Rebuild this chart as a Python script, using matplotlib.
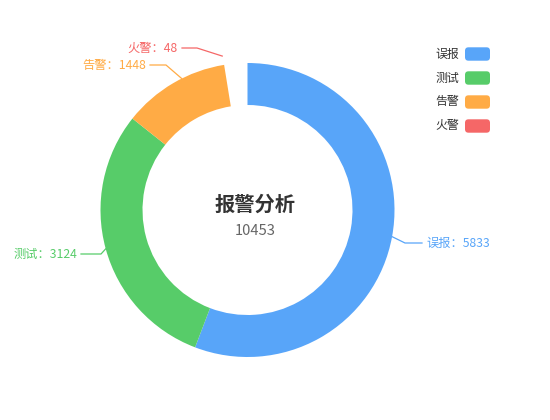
import numpy as np
import matplotlib.pyplot as plt
from matplotlib.patches import Wedge, FancyBboxPatch

plt.rcParams['font.family'] = ['Noto Sans CJK SC', 'DejaVu Sans']

# 数据
categories = ['误报', '测试', '告警', '火警']
values = [5833, 3124, 1448, 48]
colors = ['#58a5f9', '#57cc69', '#ffab45', '#f56767']
title = '报警分析'
total = sum(values)

# 样式 / 布局 (像素坐标, y 向下)
W, H = 550, 420
cx, cy = 247.5, 210
r_out, r_in = 147, 105
# 火警这一块在原图里是空白, 告警末端留出空隙
gap_after = [0, 0, 7.5, 0]
slice_visible = [True, True, True, False]
# 标签文字位置与引导线
label_pos = [(426, 243), (77, 254), (146, 65), (178, 48)]
label_len2 = [17, 20, 16, 15]
anchor_shift = [(0, 0), (0, 0), (0, 0), (-8.5, 9)]

fig = plt.figure(figsize=(W / 100, H / 100), dpi=100)
ax = fig.add_axes([0, 0, 1, 1])
ax.set_xlim(0, W)
ax.set_ylim(H, 0)
ax.axis('off')


def polar(ang_cw, r):
    # 从正上方顺时针的角度 -> 像素坐标
    a = np.deg2rad(ang_cw)
    return cx + r * np.sin(a), cy - r * np.cos(a)


# 环形图 (y 轴翻转, 顺时针角度直接对应 Wedge 角度)
start = 0.0
mids = []
for i, v in enumerate(values):
    span = v / total * 360
    mids.append(start + span / 2)
    if slice_visible[i]:
        t1 = start - 90
        t2 = start + span - gap_after[i] - 90
        ax.add_patch(Wedge((cx, cy), r_out, t1, t2, width=r_out - r_in,
                           facecolor=colors[i], edgecolor='none'))
    start += span

# 标签和引导线
for i, name in enumerate(categories):
    da, dr = anchor_shift[i]
    axp, ayp = polar(mids[i] + da, r_out + dr)
    tx, ty = label_pos[i]
    right = tx > cx
    if right:
        x_end = tx - 4
        x_elb = x_end - label_len2[i]
        ha = 'left'
    else:
        x_end = tx + 4
        x_elb = x_end + label_len2[i]
        ha = 'right'
    ax.plot([axp, x_elb, x_end], [ayp, ty, ty], color=colors[i], lw=0.9)
    ax.text(tx, ty, f'{name}：{values[i]}', color=colors[i], fontsize=8.8,
            ha=ha, va='center')

# 中心标题
ax.text(255, 204, title, fontsize=14.6, fontweight='bold', color='#333333',
        ha='center', va='center')
ax.text(255, 231, str(total), fontsize=10.6, color='#666666',
        ha='center', va='center')

# 图例 (右上角)
for i, name in enumerate(categories):
    y = 54 + i * 24
    ax.add_patch(FancyBboxPatch((465, y - 6.7), 25, 13.4,
                                boxstyle='round,pad=0,rounding_size=3.5',
                                facecolor=colors[i], edgecolor='none'))
    ax.text(459, y, name, fontsize=8.6, color='#333333', ha='right', va='center')

fig.savefig('out.png', dpi=100)
plt.close(fig)
